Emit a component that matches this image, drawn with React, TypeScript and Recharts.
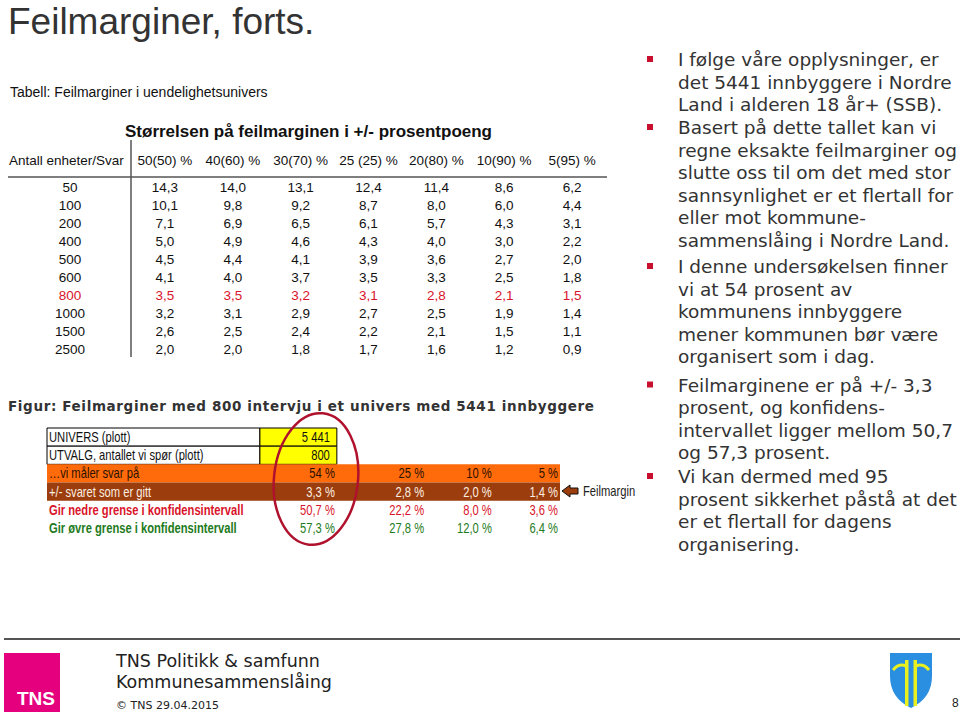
import React from "react";
import { ScatterChart, Scatter, XAxis, YAxis, ReferenceArea } from "recharts";

// Tabell: feilmarginer i uendelighetsunivers
const columnHeaders = ["50(50) %", "40(60) %", "30(70) %", "25 (25) %", "20(80) %", "10(90) %", "5(95) %"];
const sampleSizes = ["50", "100", "200", "400", "500", "600", "800", "1000", "1500", "2500"];
const highlightRow = "800";

const m50 = [14.3, 10.1, 7.1, 5.0, 4.5, 4.1, 3.5, 3.2, 2.6, 2.0];
const m40 = [14.0, 9.8, 6.9, 4.9, 4.4, 4.0, 3.5, 3.1, 2.5, 2.0];
const m30 = [13.1, 9.2, 6.5, 4.6, 4.1, 3.7, 3.2, 2.9, 2.4, 1.8];
const m25 = [12.4, 8.7, 6.1, 4.3, 3.9, 3.5, 3.1, 2.7, 2.2, 1.7];
const m20 = [11.4, 8.0, 5.7, 4.0, 3.6, 3.3, 2.8, 2.5, 2.1, 1.6];
const m10 = [8.6, 6.0, 4.3, 3.0, 2.7, 2.5, 2.1, 1.9, 1.5, 1.2];
const m5 = [6.2, 4.4, 3.1, 2.2, 2.0, 1.8, 1.5, 1.4, 1.1, 0.9];
const marginColumns = [m50, m40, m30, m25, m20, m10, m5];

// Figur: 800 intervju i et univers med 5441 innbyggere
const figLabels = [
  "UNIVERS (plott)",
  "UTVALG, antallet vi spør (plott)",
  "…vi måler svar på",
  "+/- svaret som er gitt",
  "Gir nedre grense i konfidensintervall",
  "Gir øvre grense i konfidensintervall",
];
const universe = "5 441";
const sample = "800";
const measured = [54, 25, 10, 5];
const errorMargin = [3.3, 2.8, 2.0, 1.4];
const lowerBound = [50.7, 22.2, 8.0, 3.6];
const upperBound = [57.3, 27.8, 12.0, 6.4];

const bullets = [
  ["I følge våre opplysninger, er", "det 5441 innbyggere i Nordre", "Land i alderen 18 år+ (SSB)."],
  [
    "Basert på dette tallet kan vi",
    "regne eksakte feilmarginer og",
    "slutte oss til om det med stor",
    "sannsynlighet er et flertall for",
    "eller mot kommune-",
    "sammenslåing i Nordre Land.",
  ],
  ["I denne undersøkelsen finner", "vi at 54 prosent av", "kommunens innbyggere", "mener kommunen bør være", "organisert som i dag."],
  ["Feilmarginene er på +/- 3,3", "prosent, og konfidens-", "intervallet ligger mellom 50,7", "og 57,3 prosent."],
  ["Vi kan dermed med 95", "prosent sikkerhet påstå at det", "er et flertall for dagens", "organisering."],
];

// layout
const bulletTops = [66, 134, 273, 391.5, 483];
const lineStep = 22.5;
const figColEdges = [0, 41.5, 56.5, 73.9, 87.1, 100];
const NARROW_X = 0.8;
const ARIAL = "'Liberation Sans', Arial, Helvetica, sans-serif";
const VERDANA = "Verdana, 'DejaVu Sans', sans-serif";
const RED = "#d9142b";
const GREEN = "#1e7b22";
const ORANGE = "#ff6a0a";
const BROWN = "#9b3d0c";

const fmt = (v: number) => v.toFixed(1).replace(".", ",");

const cells = sampleSizes.flatMap((n, row) =>
  marginColumns.map((col, c) => ({ col: c, row, value: col[row], hot: n === highlightRow }))
);

const figCells = [
  ...figLabels.map((t, row) => ({ x: 0, row, text: t, label: true })),
  { x: figColEdges[2], row: 0, text: universe, label: false },
  { x: figColEdges[2], row: 1, text: sample, label: false },
  ...measured.map((v, i) => ({ x: figColEdges[i + 2], row: 2, text: `${v} %`, label: false })),
  ...errorMargin.map((v, i) => ({ x: figColEdges[i + 2], row: 3, text: `${fmt(v)} %`, label: false })),
  ...lowerBound.map((v, i) => ({ x: figColEdges[i + 2], row: 4, text: `${fmt(v)} %`, label: false })),
  ...upperBound.map((v, i) => ({ x: figColEdges[i + 2], row: 5, text: `${fmt(v)} %`, label: false })),
];

const figRowColor = ["#111", "#111", "#2a1200", "#fbeee2", RED, GREEN];

function HeaderTick({ x, y, payload }: any) {
  return (
    <text x={x} y={y - 13} textAnchor="middle" fontFamily={ARIAL} fontSize={13.5} fill="#111">
      {columnHeaders[payload.value]}
    </text>
  );
}

function RowTick({ x, y, payload }: any) {
  const label = sampleSizes[payload.value];
  return (
    <text x={x - 61} y={y + 5} textAnchor="middle" fontFamily={ARIAL} fontSize={13.5} fill={label === highlightRow ? RED : "#111"}>
      {label}
    </text>
  );
}

function CellText({ cx, cy, payload }: any) {
  return (
    <text x={cx} y={cy + 5} textAnchor="middle" fontFamily={ARIAL} fontSize={13.5} fill={payload.hot ? RED : "#111"}>
      {fmt(payload.value)}
    </text>
  );
}

// narrow text (Arial Narrow look) by squeezing Arial horizontally
function NarrowText({ x, y, anchor = "start", bold = false, fill, children }: any) {
  return (
    <text
      transform={`translate(${x},${y}) scale(${NARROW_X},1)`}
      textAnchor={anchor}
      fontFamily={ARIAL}
      fontSize={14}
      fontWeight={bold ? 700 : 400}
      fill={fill}
    >
      {children}
    </text>
  );
}

function FigText({ cx, cy, payload }: any) {
  const boxed = payload.row < 2;
  const bold = payload.label && payload.row >= 4;
  return (
    <NarrowText
      x={payload.label ? cx + 2 : cx - (boxed ? 7 : 2)}
      y={cy + 5}
      anchor={payload.label ? "start" : "end"}
      bold={bold}
      fill={figRowColor[payload.row]}
    >
      {payload.text}
    </NarrowText>
  );
}

function MarginTable() {
  return (
    <ScatterChart width={620} height={230} margin={{ top: 10, right: 14, bottom: 0, left: 8 }}>
      <XAxis
        type="number"
        dataKey="col"
        orientation="top"
        height={40}
        domain={[-0.5, columnHeaders.length - 0.5]}
        ticks={columnHeaders.map((_, i) => i)}
        interval={0}
        axisLine={false}
        tickLine={false}
        tickSize={0}
        tickMargin={0}
        tick={HeaderTick}
      />
      <YAxis
        type="number"
        dataKey="row"
        width={123}
        reversed
        domain={[-0.5, sampleSizes.length - 0.5]}
        ticks={sampleSizes.map((_, i) => i)}
        interval={0}
        axisLine={false}
        tickLine={false}
        tickSize={0}
        tickMargin={0}
        tick={RowTick}
      />
      <Scatter data={cells} isAnimationActive={false} shape={CellText} />
    </ScatterChart>
  );
}

function FigureTable() {
  return (
    <ScatterChart width={620} height={125} margin={{ top: 8, right: 60, bottom: 8, left: 47 }}>
      <XAxis type="number" dataKey="x" domain={[0, 100]} hide />
      <YAxis type="number" dataKey="row" domain={[-0.5, figLabels.length - 0.5]} reversed hide />
      {[0, 1].map((r) => (
        <ReferenceArea key={`w${r}`} x1={figColEdges[0]} x2={figColEdges[1]} y1={r - 0.5} y2={r + 0.5} fill="#fff" fillOpacity={1} stroke="#000" strokeWidth={1} />
      ))}
      {[0, 1].map((r) => (
        <ReferenceArea key={`y${r}`} x1={figColEdges[1]} x2={figColEdges[2]} y1={r - 0.5} y2={r + 0.5} fill="#ffff00" fillOpacity={1} stroke="#000" strokeWidth={1} />
      ))}
      <ReferenceArea x1={0} x2={100} y1={1.5} y2={2.5} fill={ORANGE} fillOpacity={1} stroke="none" />
      <ReferenceArea x1={0} x2={100} y1={2.5} y2={3.5} fill={BROWN} fillOpacity={1} stroke="none" />
      <Scatter data={figCells} isAnimationActive={false} shape={FigText} />
    </ScatterChart>
  );
}

export default function App() {
  return (
    <div style={{ position: "absolute", left: 0, top: 0, width: 960, height: 712, overflow: "hidden", background: "#fff" }}>
      <div style={{ position: "absolute", left: 0, top: 128 }}>
        <MarginTable />
      </div>
      <div style={{ position: "absolute", left: 0, top: 420 }}>
        <FigureTable />
      </div>
      <svg width={960} height={712} style={{ position: "absolute", left: 0, top: 0, pointerEvents: "none" }}>
        <text x={8} y={34} fontFamily={ARIAL} fontSize={37} fill="#333">
          Feilmarginer, forts.
        </text>
        <text x={10} y={97} fontFamily={ARIAL} fontSize={14} fill="#111">
          Tabell: Feilmarginer i uendelighetsunivers
        </text>
        <text x={125} y={137} fontFamily={ARIAL} fontSize={17} fontWeight={700} fill="#111">
          Størrelsen på feilmarginen i +/- prosentpoeng
        </text>
        <text x={9} y={165} fontFamily={ARIAL} fontSize={13.5} fill="#111">
          Antall enheter/Svar
        </text>
        <line x1={131} y1={140} x2={131} y2={357} stroke="#555" strokeWidth={1.5} />
        <line x1={8} y1={177} x2={607} y2={177} stroke="#555" strokeWidth={1.5} />

        <text x={8} y={411} fontFamily={VERDANA} fontSize={13.5} fontWeight={700} fill="#333" textLength={586}>
          Figur: Feilmarginer med 800 intervju i et univers med 5441 innbyggere
        </text>
        <ellipse cx={316} cy={479} rx={42} ry={66} fill="none" stroke="#b0122e" strokeWidth={2.5} transform="rotate(6 316 479)" />
        <polygon points="562,491 570,485 570,488 578,488 578,494 570,494 570,497" fill={BROWN} stroke="#111" strokeWidth={1} />
        <NarrowText x={583} y={496} fill="#222">
          Feilmargin
        </NarrowText>

        {bullets.map((lines, p) => (
          <g key={p}>
            <rect x={647} y={bulletTops[p] - 10} width={6} height={6} fill="#c8102e" />
            {lines.map((l, i) => (
              <text key={i} x={678} y={bulletTops[p] + i * lineStep} fontFamily={VERDANA} fontSize={18.5} fill="#333">
                {l}
              </text>
            ))}
          </g>
        ))}

        <line x1={4} y1={639} x2={960} y2={639} stroke="#555" strokeWidth={2} />
        <rect x={4} y={653} width={56} height={59} fill="#e5007e" />
        <text x={17} y={705} fontFamily={ARIAL} fontSize={19} fontWeight={700} fill="#fff">
          TNS
        </text>
        <text x={116} y={667} fontFamily={VERDANA} fontSize={17.5} fill="#222">
          TNS Politikk &amp; samfunn
        </text>
        <text x={116} y={688} fontFamily={VERDANA} fontSize={17.5} fill="#222">
          Kommunesammenslåing
        </text>
        <text x={116} y={709} fontFamily={VERDANA} fontSize={11} fill="#222">
          © TNS 29.04.2015
        </text>
        <path d="M890,653 H932 V676 Q932,698 911,708 Q890,698 890,676 Z" fill="#2a8fe0" />
        <rect x={905} y={660} width={3.5} height={46} fill="#e8f020" />
        <rect x={913.5} y={660} width={3.5} height={46} fill="#e8f020" />
        <path d="M893,670 Q899,663 906,666 M929,670 Q923,663 916,666" stroke="#e8f020" strokeWidth={3} fill="none" />
        <text x={952} y={707} fontFamily={ARIAL} fontSize={12} fill="#222">
          8
        </text>
      </svg>
    </div>
  );
}
